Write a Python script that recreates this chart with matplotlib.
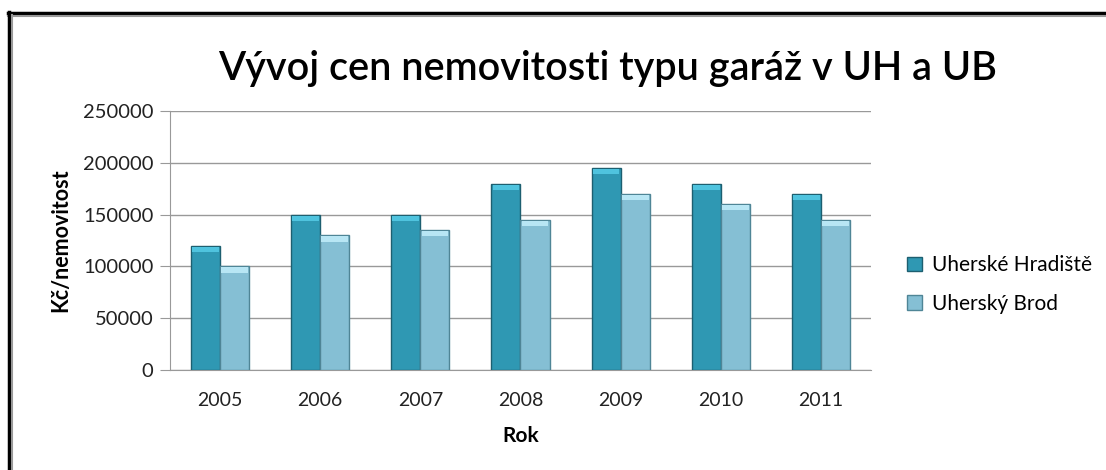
import numpy as np
import matplotlib.pyplot as plt
from matplotlib.lines import Line2D

plt.rcParams['font.family'] = ['Lato', 'DejaVu Sans']

# data
years = ['2005', '2006', '2007', '2008', '2009', '2010', '2011']
uh = [120000, 150000, 150000, 180000, 195000, 180000, 170000]
ub = [100000, 130000, 135000, 145000, 170000, 160000, 145000]
series_names = ['Uherské Hradiště', 'Uherský Brod']

fig = plt.figure(figsize=(11.06, 4.70), dpi=100)
ax = fig.add_axes([0.1537, 0.2128, 0.7875 - 0.1537, 0.7638 - 0.2128])

x = np.arange(len(years))
w = 0.29
cap = 5000  # lighter bevel on top of each bar
ax.bar(x - w / 2, uh, w, color='#2f98b3', edgecolor='#1d5f70', linewidth=1.0,
       label=series_names[0], zorder=3)
ax.bar(x + w / 2, ub, w, color='#85bfd4', edgecolor='#4f8596', linewidth=1.0,
       label=series_names[1], zorder=3)
ax.bar(x - w / 2, cap, w * 0.92, bottom=np.array(uh) - cap * 1.2,
       color='#4fc3de', linewidth=0, zorder=4)
ax.bar(x + w / 2, cap, w * 0.92, bottom=np.array(ub) - cap * 1.2,
       color='#b8e6f4', linewidth=0, zorder=4)

ax.set_xlim(-0.5, len(years) - 0.5)
ax.set_ylim(0, 250000)
ax.set_yticks(range(0, 250001, 50000))
ax.set_xticks(x)
ax.set_xticklabels(years)
ax.yaxis.grid(True, color='#999999', linewidth=1.0, zorder=0)
ax.tick_params(axis='x', length=0, pad=16, labelsize=14, labelcolor='#222222')
ax.tick_params(axis='y', length=7, color='#999999', pad=5, labelsize=14.5, labelcolor='#222222')
for side in ['top', 'right']:
    ax.spines[side].set_visible(False)
ax.spines['left'].set_color('#999999')
ax.spines['bottom'].set_color('#999999')

ax.set_xlabel('Rok', fontsize=15, fontweight='bold', labelpad=12)
ax.set_ylabel('Kč/nemovitost', fontsize=15.5, fontweight='bold', labelpad=8)

fig.text(0.549, 1 - 80 / 470, 'Vývoj cen nemovitosti typu garáž v UH a UB',
         ha='center', va='baseline', fontsize=28.5, fontweight='semibold')

ax.legend(loc='center left', bbox_to_anchor=(1.025, 0.33), frameon=False,
          fontsize=15, handlelength=0.7, handleheight=0.7, labelspacing=0.9,
          handletextpad=0.5)

# frame on top and left edge
fig.add_artist(Line2D([8 / 1106, 1], [1 - 13 / 470, 1 - 13 / 470], color='black', lw=2.5))
fig.add_artist(Line2D([8 / 1106, 1], [1 - 15.5 / 470, 1 - 15.5 / 470], color='#999999', lw=1.5))
fig.add_artist(Line2D([9 / 1106, 9 / 1106], [0, 1 - 12 / 470], color='black', lw=2.5))
fig.add_artist(Line2D([11.5 / 1106, 11.5 / 1106], [0, 1 - 15 / 470], color='#999999', lw=1.5))

fig.savefig('out.png', dpi=100)
